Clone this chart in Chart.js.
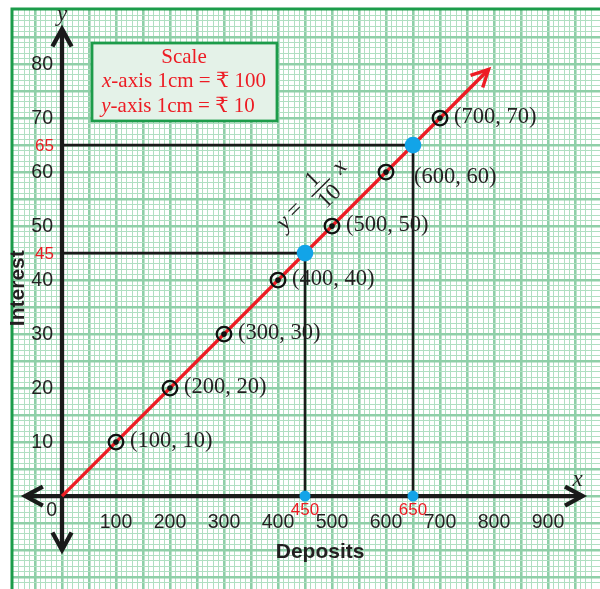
<!DOCTYPE html>
<html><head><meta charset="utf-8">
<script src="https://cdn.jsdelivr.net/npm/chart.js@4"></script>
<style>html,body{margin:0;padding:0;background:#fff;}canvas{display:block;}</style>
</head><body>
<canvas id="c" width="600" height="589"></canvas>
<script>
// ---- data ----
const deposits = [100, 200, 300, 400, 500, 600, 700];
const interest = [10, 20, 30, 40, 50, 60, 70];
const lineX = [0, 790];
const lineY = [0, 79];
const readX = [450, 650];
const readY = [45, 65];
const xTicks = [100, 200, 300, 400, 500, 600, 700, 800, 900];
const yTicks = [10, 20, 30, 40, 50, 60, 70, 80];
const xTitle = 'Deposits';
const yTitle = 'Interest';
const scaleTitle = 'Scale';
const scaleX = ['x', '-axis 1cm = ₹ 100'];
const scaleY = ['y', '-axis 1cm = ₹ 10'];

const SERIF = "'Liberation Serif','DejaVu Serif',serif";
const SANS = "'Liberation Sans',Arial,sans-serif";
const RED = '#ed1c24', BLUE = '#12a4e8', INK = '#231f20';
const MAJ = '#8fcfa8', MIN = '#b0dfc2', GREEN = '#1c9c4a';

function isMult(v, m) { const r = Math.round(v / m); return Math.abs(v - r * m) < 1e-6 ? r * m : null; }

const pts = (xs, ys) => xs.map((x, i) => ({x, y: ys[i]}));

function text(ctx, s, x, y, font, color, align, base) {
  ctx.font = font; ctx.fillStyle = color; ctx.textAlign = align || 'center'; ctx.textBaseline = base || 'middle';
  ctx.fillText(s, x, y);
}
function chevron(ctx, tx, ty, ang, len, half) {
  ctx.beginPath();
  ctx.moveTo(tx + len * Math.cos(ang + Math.PI - half), ty + len * Math.sin(ang + Math.PI - half));
  ctx.lineTo(tx, ty);
  ctx.lineTo(tx + len * Math.cos(ang + Math.PI + half), ty + len * Math.sin(ang + Math.PI + half));
  ctx.stroke();
}

const paper = {
  id: 'paper',
  beforeDraw(chart) {
    const ctx = chart.ctx;
    ctx.save(); ctx.fillStyle = '#fff'; ctx.fillRect(0, 0, chart.width, chart.height); ctx.restore();
  },
  beforeDatasetsDraw(chart) {
    const ctx = chart.ctx, xs = chart.scales.x, ys = chart.scales.y, a = chart.chartArea;
    ctx.save();
    // border of the paper
    ctx.strokeStyle = GREEN; ctx.lineWidth = 3;
    ctx.beginPath(); ctx.moveTo(a.left, a.bottom); ctx.lineTo(a.left, a.top); ctx.lineTo(a.right, a.top); ctx.stroke();
    // axes
    const ox = xs.getPixelForValue(0), oy = ys.getPixelForValue(0);
    const xl = xs.getPixelForValue(-68), xr = xs.getPixelForValue(964);
    const yt = ys.getPixelForValue(86.5), yb = ys.getPixelForValue(-10);
    ctx.strokeStyle = '#1a1a1a'; ctx.lineWidth = 4.3; ctx.lineCap = 'butt';
    ctx.beginPath(); ctx.moveTo(xl + 2, oy); ctx.lineTo(xr - 2, oy); ctx.stroke();
    ctx.beginPath(); ctx.moveTo(ox, yt + 2); ctx.lineTo(ox, yb - 2); ctx.stroke();
    ctx.lineJoin = 'miter';
    chevron(ctx, xr, oy, 0, 20, 0.5);
    chevron(ctx, xl, oy, Math.PI, 20, 0.5);
    chevron(ctx, ox, yt, -Math.PI / 2, 20, 0.5);
    chevron(ctx, ox, yb, Math.PI / 2, 20, 0.5);
    // scale box
    ctx.fillStyle = '#e4f2e8'; ctx.strokeStyle = GREEN; ctx.lineWidth = 2.8;
    ctx.fillRect(92, 43, 185, 78); ctx.strokeRect(92, 43, 185, 78);
    text(ctx, scaleTitle, 184, 57, '21px ' + SERIF, RED);
    const drawMixed = (parts, cx, cy) => {
      ctx.font = 'italic 21px ' + SERIF; const w1 = ctx.measureText(parts[0]).width;
      ctx.font = '21px ' + SERIF; const w2 = ctx.measureText(parts[1]).width;
      const x0 = cx - (w1 + w2) / 2;
      text(ctx, parts[0], x0, cy, 'italic 21px ' + SERIF, RED, 'left');
      text(ctx, parts[1], x0 + w1, cy, '21px ' + SERIF, RED, 'left');
    };
    drawMixed(scaleX, 184, 81);
    drawMixed(scaleY, 178, 106);
    // tick labels
    xTicks.forEach(v => text(ctx, String(v), xs.getPixelForValue(v), oy + 27, '19.5px ' + SANS, INK));
    yTicks.forEach(v => text(ctx, String(v), ox - 9, ys.getPixelForValue(v) + 1, '19.5px ' + SANS, INK, 'right'));
    text(ctx, '0', ox - 5, oy + 15, '19.5px ' + SANS, INK, 'right');
    readX.forEach(v => text(ctx, String(v), xs.getPixelForValue(v), oy + 14, '17px ' + SANS, RED));
    readY.forEach(v => text(ctx, String(v), ox - 8, ys.getPixelForValue(v) + 1, '17px ' + SANS, RED, 'right'));
    // axis titles
    text(ctx, xTitle, xs.getPixelForValue(478), oy + 56, 'bold 21px ' + SANS, INK);
    ctx.save(); ctx.translate(18, ys.getPixelForValue(38.5)); ctx.rotate(-Math.PI / 2);
    text(ctx, yTitle, 0, 0, 'bold 21px ' + SANS, INK); ctx.restore();
    text(ctx, 'x', xr - 5, oy - 16, 'italic 23px ' + SERIF, INK);
    text(ctx, 'y', ox, yt - 14, 'italic 23px ' + SERIF, INK);
    ctx.restore();
  },
  afterDatasetsDraw(chart) {
    const ctx = chart.ctx, xs = chart.scales.x, ys = chart.scales.y;
    ctx.save();
    // arrow head of the line
    const n = lineX.length - 1;
    const tx = xs.getPixelForValue(lineX[n]), ty = ys.getPixelForValue(lineY[n]);
    const ang = Math.atan2(ty - ys.getPixelForValue(lineY[0]), tx - xs.getPixelForValue(lineX[0]));
    ctx.strokeStyle = RED; ctx.lineWidth = 3.4; ctx.lineJoin = 'miter';
    chevron(ctx, tx, ty, ang, 19, 0.47);
    // point labels (the one just left of the 650 drop line is nudged right/down)
    deposits.forEach((d, i) => {
      const px = xs.getPixelForValue(d), py = ys.getPixelForValue(interest[i]);
      const nudge = i === deposits.length - 2;
      const lx = nudge ? px + 28 : px + 14, ly = nudge ? py + 5 : py - 1;
      text(ctx, '(' + d + ', ' + interest[i] + ')', lx, ly, '22.5px ' + SERIF, INK, 'left');
    });
    // equation y = (1/10) x, rotated along the line
    ctx.translate(313, 194); ctx.rotate(-Math.PI / 4);
    text(ctx, 'y', -41, 0, 'italic 24px ' + SERIF, INK);
    text(ctx, '=', -24, -1, '24px ' + SERIF, INK);
    ctx.strokeStyle = INK; ctx.lineWidth = 1.4;
    ctx.beginPath(); ctx.moveTo(-3, 1); ctx.lineTo(23, 1); ctx.stroke();
    text(ctx, '1', 10, -10, '23px ' + SERIF, INK);
    text(ctx, '10', 10, 14, '23px ' + SERIF, INK);
    text(ctx, 'x', 38, 0, 'italic 24px ' + SERIF, INK);
    ctx.restore();
  }
};

const gridOpts = (step, major) => ({
  color: c => { const v = isMult(c.tick.value, step); if (v === null) return 'rgba(0,0,0,0)'; return isMult(v, major) !== null ? MAJ : MIN; },
  lineWidth: c => { const v = isMult(c.tick.value, step); if (v === null) return 0; return isMult(v, major) !== null ? 2.6 : 1; },
  drawTicks: false
});
const zeroFit = (s) => { if (s.isHorizontal()) s.height = 0; else s.width = 0; s.paddingLeft = s.paddingRight = s.paddingTop = s.paddingBottom = 0; };

new Chart(document.getElementById('c'), {
  type: 'scatter',
  data: {
    datasets: [
      { data: pts(deposits, interest), pointRadius: 2.8, pointBackgroundColor: '#111', pointBorderWidth: 0, order: 0 },
      { data: pts(readX, readY), pointRadius: 8.3, pointBackgroundColor: BLUE, pointBorderWidth: 0, order: 0 },
      { data: pts(readX, readX.map(() => 0)), pointRadius: 5.5, pointBackgroundColor: BLUE, pointBorderWidth: 0, order: 0 },
      { data: pts(deposits, interest), pointRadius: 7.3, pointBackgroundColor: 'rgba(0,0,0,0)', pointBorderColor: '#111', pointBorderWidth: 2.3, order: 1 },
      { data: pts(lineX, lineY), showLine: true, borderColor: RED, borderWidth: 3.4, pointRadius: 0, order: 2 },
      ...readX.map((rx, i) => ({ data: [{x: 0, y: readY[i]}, {x: rx, y: readY[i]}, {x: rx, y: 0}], showLine: true, borderColor: '#1a1a1a', borderWidth: 2.6, pointRadius: 0, order: 3 }))
    ]
  },
  options: {
    responsive: false, animation: false, events: [],
    layout: { autoPadding: false, padding: { left: 12, top: 9, right: 0, bottom: 0 } },
    plugins: { legend: { display: false }, tooltip: { enabled: false } },
    scales: {
      x: { type: 'linear', min: -92.6, max: 996.3, ticks: { display: false, stepSize: 10, padding: 0 }, border: { display: false }, grid: gridOpts(10, 50), afterFit: zeroFit },
      y: { type: 'linear', min: -17.2, max: 90.2, ticks: { display: false, stepSize: 1, padding: 0 }, border: { display: false }, grid: gridOpts(1, 5), afterFit: zeroFit }
    }
  },
  plugins: [paper]
});
</script>
</body></html>
